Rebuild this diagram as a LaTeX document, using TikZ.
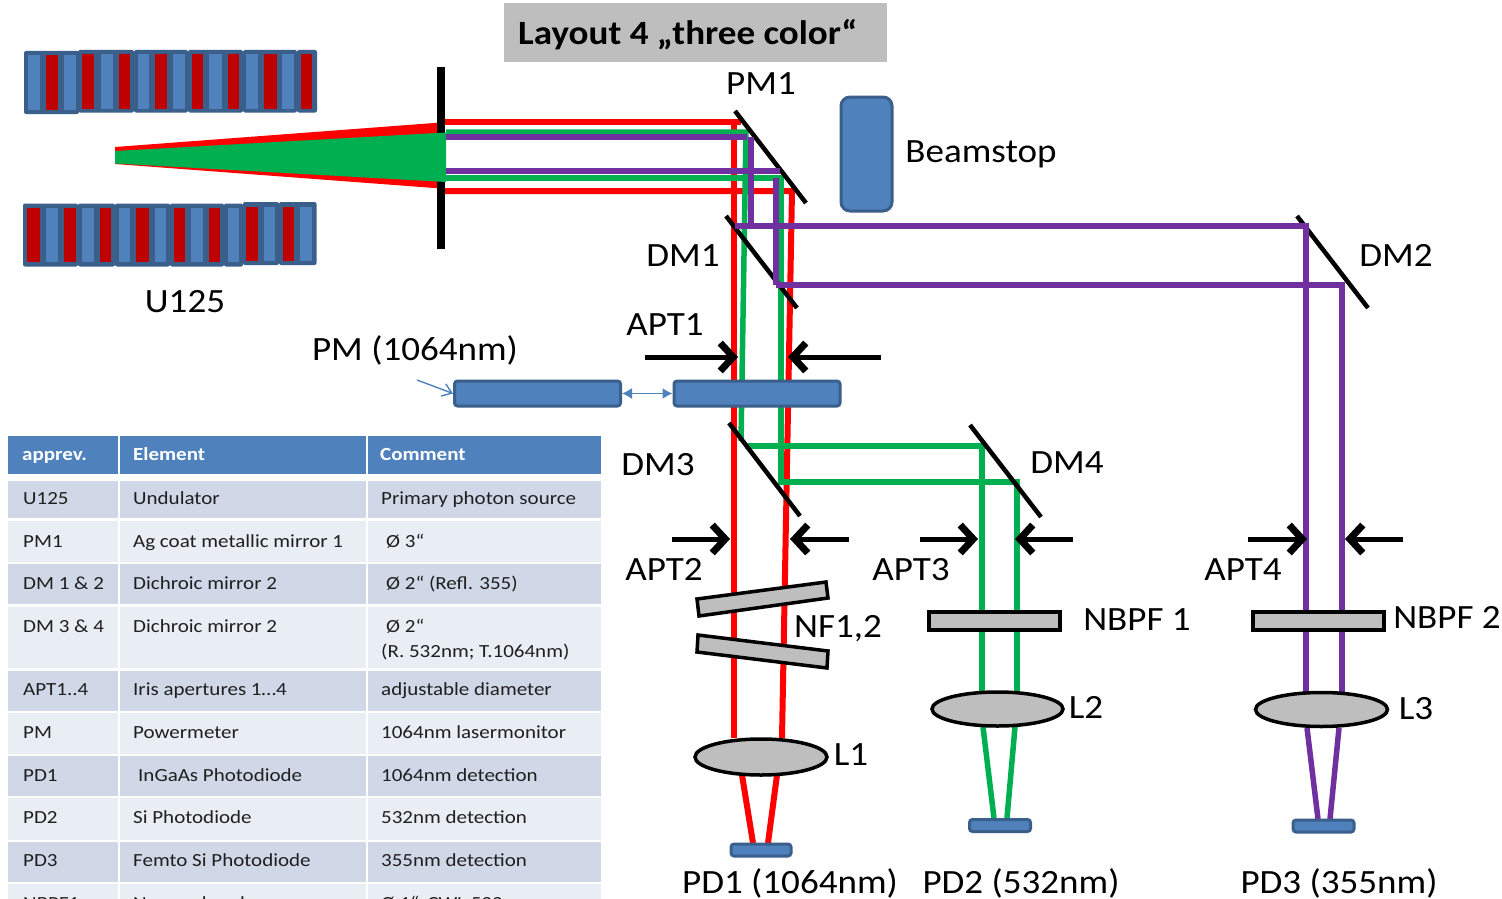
\documentclass[tikz,border=0pt]{standalone}
\usepackage{fontspec}
\setmainfont{Carlito}[FakeStretch=1.09]
\newfontfamily\tabfont{Carlito}[FakeStretch=1.135]
\usetikzlibrary{arrows.meta}
\definecolor{bdark}{HTML}{3A5F8B}
\definecolor{bblue}{HTML}{4F81BD}
\definecolor{ured}{HTML}{BE0000}
\definecolor{beamred}{HTML}{FF0000}
\definecolor{beamgreen}{HTML}{00B050}
\definecolor{beampurple}{HTML}{7030A0}
\definecolor{optgrey}{HTML}{BEBEBE}
\definecolor{rowdark}{HTML}{D0D8E8}
\definecolor{rowlight}{HTML}{E9EDF4}
\definecolor{tabtext}{HTML}{1F1F1F}
\tikzset{
  beamR/.style={draw=beamred,line width=6pt,line join=miter},
  beamG/.style={draw=beamgreen,line width=5.5pt,line join=miter},
  beamP/.style={draw=beampurple,line width=5.5pt,line join=miter},
  mirror/.style={draw=black,line width=4.5pt},
  bigtext/.style={anchor=base,inner sep=0pt,font=\fontsize{34}{36}\selectfont,text=black},
  tabcell/.style={anchor=base west,inner sep=0pt,font=\tabfont\fontsize{18.5}{20}\selectfont,text=tabtext},
  tabhead/.style={anchor=base west,inner sep=0pt,font=\tabfont\fontsize{18.5}{20}\selectfont\bfseries,text=white},
  bluebox/.style={draw=bdark,fill=bblue,line width=3pt,rounded corners=3pt,inner sep=0pt,outer sep=1.5pt},
  optic/.style={draw=black,fill=optgrey,line width=3.5pt},
  irisarrow/.style={draw=black,line width=5pt,-{Straight Barb[length=13pt,width=28pt,line width=7pt]}},
  thinblue/.style={draw=bblue,line width=1.4pt},
}
\begin{document}
\begin{tikzpicture}[x=1pt,y=-1pt]
\clip (0,0) rectangle (1502,899);
\fill[white] (0,0) rectangle (1502,899);

% undulator, top row
\foreach \a/\b in {24/79}{\fill[bdark,rounded corners=2pt] (\a,51) rectangle (\b,114);}
\foreach \a/\b in {78/134,134/188,188/243,243/297,297/317}{\fill[bdark,rounded corners=2pt] (\a,50) rectangle (\b,112.5);}
\foreach \a/\b in {85/120,192/228}{\fill[bblue] (\a/3,55) rectangle (\b/3,109.5);}
\fill[ured] (137/3,55) rectangle (175/3,109.5);
\foreach \a/\b in {302/340,413/447,520/555,628/666,738/773,847/882}{\fill[bblue] (\a/3,54) rectangle (\b/3,108.5);}
\foreach \a/\b in {246/283,358/390,465/502,577/610,684/718,792/830,904/937}{\fill[ured] (\a/3,54) rectangle (\b/3,108.5);}
% undulator, bottom row
\foreach \a/\b in {23/78,78/115,115/170,170/224,224/243}{\fill[bdark,rounded corners=2pt] (\a,203.5) rectangle (\b,266.5);}
\foreach \a/\b in {243/279,279/316.5}{\fill[bdark,rounded corners=2pt] (\a,202) rectangle (\b,265);}
\foreach \a/\b in {81/120,193/227,301/334,409/446,521/554,628/661}{\fill[ured] (\a/3,208) rectangle (\b/3,262);}
\foreach \a/\b in {137/175,245/282,357/391,465/498,572/610,684/718}{\fill[bblue] (\a/3,208) rectangle (\b/3,262);}
\foreach \a/\b in {737/773,848/881}{\fill[ured] (\a/3,206.5) rectangle (\b/3,260.5);}
\foreach \a/\b in {792/826,899/937}{\fill[bblue] (\a/3,206.5) rectangle (\b/3,260.5);}

% source cone
\fill[beamred] (115,147) -- (441,122.5) -- (441,188.5) -- (115,164) -- cycle;

% red beam
\draw[beamR] (437,122) -- (741,122);
\draw[beamR] (734,122) -- (734,738);
\draw[beamR] (437,191) -- (792,191) -- (782,738);
\draw[beamR] (742,775) -- (753,843);
\draw[beamR] (777,775) -- (768,843);

% green beam
\draw[beamG] (446,132) -- (746,132) -- (741,441);
\draw[beamG] (745,446) -- (982,446) -- (982,693);
\draw[beamG] (446,178) -- (781,178) -- (781,482) -- (1017,482) -- (1017,693);
\draw[beamG] (983,727) -- (994,818);
\draw[beamG] (1015,727) -- (1007,818);

% slit and cone core
\fill[black] (436.5,67) rectangle (444.5,249);
\fill[beamgreen] (115,151) -- (446,132.5) -- (446,182) -- (115,163.5) -- cycle;

% mirrors
\draw[mirror] (735,111) -- (806,203);
\draw[mirror] (726,216) -- (797,308);
\draw[mirror] (1297,216) -- (1368,308);
\draw[mirror] (729,423) -- (800,516);
\draw[mirror] (970,425) -- (1041,517);

% purple beam
\draw[beamP] (446,137) -- (747,137);
\draw[beamP] (751,137) -- (751,226);
\draw[beamP] (735,226) -- (1306,226) -- (1306,693);
\draw[beamP] (446,171) -- (780,171);
\draw[beamP] (776,178) -- (776,285);
\draw[beamP] (776,285) -- (1342,285) -- (1342,693);
\draw[beamP] (1307,728) -- (1318,819);
\draw[beamP] (1339,728) -- (1330,819);

% iris arrows
\draw[irisarrow] (645,357) -- (738,357);
\draw[irisarrow] (881,357) -- (788,357);
\draw[irisarrow] (672,539) -- (730,539);
\draw[irisarrow] (849,539) -- (790,539);
\draw[irisarrow] (920,539) -- (978,539);
\draw[irisarrow] (1073,539) -- (1015,539);
\draw[irisarrow] (1248,539) -- (1307,539);
\draw[irisarrow] (1403,539) -- (1345,539);

% optics
\draw[optic] (697,599) -- (826,582) -- (828,598) -- (699,616) -- cycle;
\draw[optic] (698,635) -- (828,651) -- (827,668) -- (697,652) -- cycle;
\draw[optic] (929,612) rectangle (1060,630);
\draw[optic] (1253,612) rectangle (1384,630);
\draw[optic] (761,757) ellipse [x radius=66,y radius=18];
\draw[optic] (997.5,709) ellipse [x radius=65.5,y radius=17];
\draw[optic] (1321.5,709.5) ellipse [x radius=66,y radius=17];

% blue parts
\node[bluebox,minimum width=51pt,minimum height=114pt,rounded corners=9pt] (stop) at (866.5,154) {};
\node[bluebox,minimum width=166pt,minimum height=25pt] (pm) at (537.5,393.5) {};
\node[bluebox,minimum width=166pt,minimum height=25pt] (apt) at (757,393.5) {};
\node[bluebox,minimum width=60pt,minimum height=12pt] (pdone) at (761,850) {};
\node[bluebox,minimum width=61pt,minimum height=12pt] (pdtwo) at (1000,825.5) {};
\node[bluebox,minimum width=61pt,minimum height=12pt] (pdthree) at (1323.5,826) {};
\draw[thinblue,{Latex[length=10pt,width=11pt]}-{Latex[length=10pt,width=11pt]}] (pm.east) -- (apt.west);
\coordinate (pmfree) at (417,380);
\draw[thinblue,-{Straight Barb[length=9pt,width=13pt]}] (pmfree) -- (pm.west);

% title
\node[fill=optgrey,minimum width=383pt,minimum height=59pt,inner sep=0pt] (titlebox) at (695,32.5) {};
\node[anchor=base west,inner sep=0pt,font=\fontsize{34}{36}\selectfont\bfseries] (title) at (518,45) {Layout 4 „three color“};

% labels
\node[bigtext] (lPMone) at (761,94) {PM1};
\node[bigtext] (lstop) at (981,162) {Beamstop};
\node[bigtext] (lU) at (185,312) {U125};
\node[bigtext] (lDMone) at (683,266) {DM1};
\node[bigtext] (lDMtwo) at (1396,266) {DM2};
\node[bigtext] (lAPTone) at (665,335) {APT1};
\node[bigtext] (lPM) at (415,360) {PM (1064nm)};
\node[bigtext] (lDMthree) at (658,475) {DM3};
\node[bigtext] (lDMfour) at (1067,473) {DM4};
\node[bigtext] (lAPTtwo) at (664,580) {APT2};
\node[bigtext] (lAPTthree) at (911,580) {APT3};
\node[bigtext] (lAPTfour) at (1243,580) {APT4};
\node[bigtext] (lNF) at (838,637) {NF1,2};
\node[bigtext] (lNBone) at (1137,630) {NBPF 1};
\node[bigtext] (lNBtwo) at (1447,628) {NBPF 2};
\node[bigtext] (lLone) at (851,765) {L1};
\node[bigtext] (lLtwo) at (1086,718) {L2};
\node[bigtext] (lLthree) at (1416,719) {L3};
\node[bigtext] (lPDone) at (790,893) {PD1 (1064nm)};
\node[bigtext] (lPDtwo) at (1021,893) {PD2 (532nm)};
\node[bigtext] (lPDthree) at (1339,893) {PD3 (355nm)};

% table cells
\foreach \t/\b/\c in {436/474/bblue,481/518/rowdark,521/562/rowlight,564/604/rowdark,607/668/rowlight,671/711/rowdark,713/754/rowlight,756/796/rowdark,798/840/rowlight,842/882/rowdark,884/905/rowlight}{
  \fill[\c] (8,\t) rectangle (118,\b);
  \fill[\c] (120,\t) rectangle (365.5,\b);
  \fill[\c] (367.5,\t) rectangle (601,\b);
}
% table text
\node[tabhead] (h1) at (22,460) {apprev.};
\node[tabhead] (h2) at (133,460) {Element};
\node[tabhead] (h3) at (380,460) {Comment};
\node[tabcell] (a1) at (23,504) {U125};
\node[tabcell] (b1) at (133,504) {Undulator};
\node[tabcell] (c1) at (381,504) {Primary photon source};
\node[tabcell] (a2) at (23,547) {PM1};
\node[tabcell] (b2) at (133,547) {Ag coat metallic mirror 1};
\node[tabcell] (c2) at (386,547) {Ø 3“};
\node[tabcell] (a3) at (23,589) {DM 1 \& 2};
\node[tabcell] (b3) at (133,589) {Dichroic mirror 2};
\node[tabcell] (c3) at (386,589) {Ø 2“ (Refl. 355)};
\node[tabcell] (a4) at (23,632) {DM 3 \& 4};
\node[tabcell] (b4) at (133,632) {Dichroic mirror 2};
\node[tabcell] (c4) at (386,632) {Ø 2“};
\node[tabcell] (c4b) at (381,657) {(R. 532nm; T.1064nm)};
\node[tabcell] (a5) at (23,695) {APT1..4};
\node[tabcell] (b5) at (133,695) {Iris apertures 1…4};
\node[tabcell] (c5) at (381,695) {adjustable diameter};
\node[tabcell] (a6) at (23,738) {PM};
\node[tabcell] (b6) at (133,738) {Powermeter};
\node[tabcell] (c6) at (381,738) {1064nm lasermonitor};
\node[tabcell] (a7) at (23,781) {PD1};
\node[tabcell] (b7) at (138,781) {InGaAs Photodiode};
\node[tabcell] (c7) at (381,781) {1064nm detection};
\node[tabcell] (a8) at (23,823) {PD2};
\node[tabcell] (b8) at (133,823) {Si Photodiode};
\node[tabcell] (c8) at (381,823) {532nm detection};
\node[tabcell] (a9) at (23,866) {PD3};
\node[tabcell] (b9) at (133,866) {Femto  Si Photodiode};
\node[tabcell] (c9) at (381,866) {355nm detection};
\node[tabcell] (a10) at (23,909) {NBPF1};
\node[tabcell] (b10) at (133,909) {Narrow band};
\node[tabcell] (c10) at (381,909) {Ø 1“, CWL 532};
\end{tikzpicture}
\end{document}
